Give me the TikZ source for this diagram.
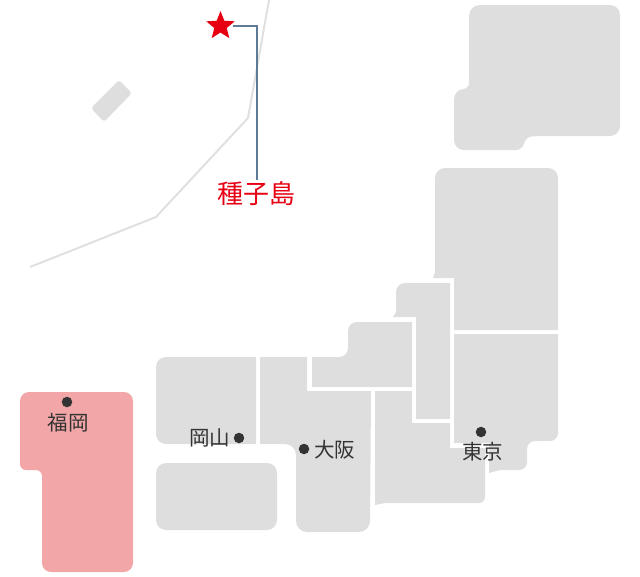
\documentclass[tikz,border=0pt]{standalone}
\usepackage{fontspec}
\setmainfont{Noto Sans CJK JP}
\usetikzlibrary{shapes.geometric,positioning}
\definecolor{mapgrey}{HTML}{DEDEDE}
\definecolor{mappink}{HTML}{F2A6A8}
\definecolor{routegrey}{HTML}{E0E0E0}
\definecolor{leaderblue}{HTML}{5F7A94}
\definecolor{sitered}{HTML}{E60012}
\definecolor{citydark}{HTML}{333333}
\tikzset{
  region/.style={fill=mapgrey,rounded corners=10pt},
  city/.style={circle,fill=citydark,inner sep=0pt,minimum size=10.5pt},
  citylabel/.style={text=citydark,inner sep=0pt,font=\fontsize{20.5}{24}\selectfont},
}

\begin{document}
\begin{tikzpicture}[x=1pt,y=-1pt,node distance=21pt,on grid]
   \useasboundingbox (0,0) rectangle (640,576);
   % route line
   \draw[routegrey,line width=2pt] (269,0) -- (248,118) -- (156,217) -- (30,267);
   \fill[mapgrey,rounded corners=3pt] (119,80) -- (132,93) -- (104,122) -- (91,108) -- cycle;
   % regions
   \fill[region] (520,5) -- (620,5) -- (620,136) -- (534,136)
      [rounded corners=7pt] -- (525,137) -- (523,150) [rounded corners=10pt] -- (454,150) -- (454,89)
      [rounded corners=6pt] -- (469,89) [rounded corners=11pt] -- (469,5) -- cycle;
   \fill[region] (435,168) -- (558,168) [sharp corners] -- (558,330) -- (454,330) -- (454,278) -- (433,278) -- (435,272) [rounded corners=10pt] -- cycle;
   \fill[mapgrey] (454,334) -- (558,334) [rounded corners=8pt] -- (558,441) -- (527,441) -- (527,470) [sharp corners] -- (500,470) -- (489,473) -- (489,443) -- (454,443) -- cycle;
   \fill[mapgrey] (450,283) -- (450,419) -- (416,419) -- (416,317) -- (393,317) -- (396,312) [rounded corners=9pt] -- (396,283) -- (420,283) [sharp corners] -- cycle;
   \fill[mapgrey] (412,322) -- (412,387) -- (312,387) -- (312,357) [rounded corners=9pt] -- (348,357) -- (348,322) -- (370,322) [sharp corners] -- cycle;
   \fill[mapgrey] (260,357) -- (307,357) -- (307,391) -- (371,391) [rounded corners=11pt] -- (370,532) -- (296,532) -- (296,444) -- (275,444) [sharp corners] -- (260,444) -- cycle;
   \fill[mapgrey] (375,391) -- (412,391) -- (412,423) -- (450,423) -- (450,448) -- (485,448) [rounded corners=6pt] -- (485,503) -- (470,503) [sharp corners] -- (385,503) -- (375,505) -- cycle;
   \fill[mapgrey] (256,357) -- (256,444) -- (200,444) [rounded corners=10pt] -- (156,444) -- (156,357) -- (200,357) [sharp corners] -- cycle;
   \fill[region] (156,463) rectangle (277,530);
   \fill[mappink,rounded corners=9pt] (20,392) -- (133,392) -- (133,572) -- (42,572) [rounded corners=6pt] -- (42,470) -- (20,470) [rounded corners=9pt] -- cycle;
   % cities
   \node[city] (fukuoka) at (67,402) {};
   \node[citylabel] (fukuokaname) [below=21pt of fukuoka,xshift=1pt] {福岡};
   \node[city] (okayama) at (239,438) {};
   \node[citylabel] (okayamaname) [left=29.5pt of okayama] {岡山};
   \node[city] (osaka) at (304,449) {};
   \node[citylabel] (osakaname) [right=30.5pt of osaka,yshift=-0.5pt] {大阪};
   \node[city] (tokyo) at (481,432) {};
   \node[citylabel] (tokyoname) [below=20pt of tokyo,xshift=1.5pt] {東京};
   % launch site
   \node[star,star points=5,star point ratio=2.3,fill=sitered,inner sep=0pt,minimum size=30pt] (site) at (220.5,26) {};
   \node[text=sitered,inner sep=0pt,font=\fontsize{26}{30}\selectfont] (sitename) at (256.5,194) {種子島};
   \draw[leaderblue,line width=2pt,shorten <=4pt,shorten >=2pt] (site.east) -| (sitename.north);
\end{tikzpicture}
\end{document}
